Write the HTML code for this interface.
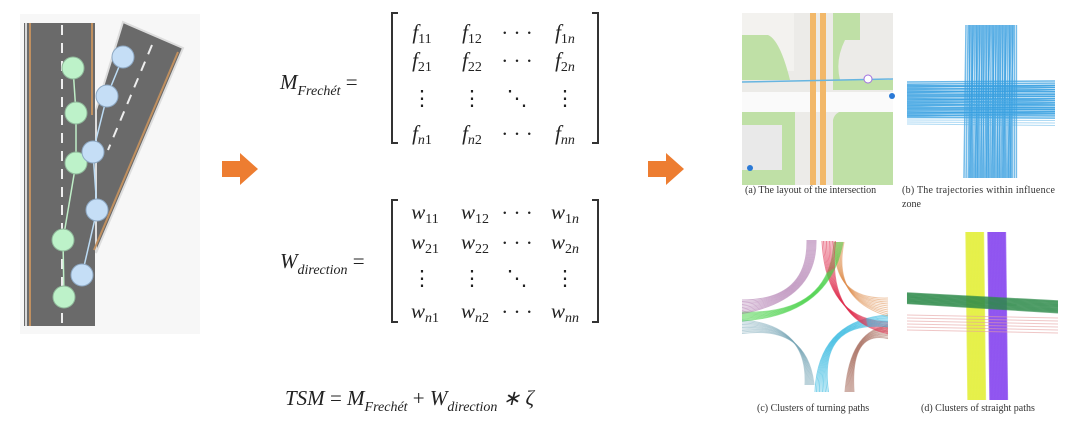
<!DOCTYPE html>
<html><head><meta charset="utf-8"><style>
body{margin:0;width:1080px;height:430px;background:#fff;overflow:hidden;position:relative;font-family:"Liberation Serif",serif}
svg{position:absolute;left:0;top:0}
.m{font-family:"Liberation Serif",serif;font-style:italic;font-size:21px;fill:#222}
.r{font-style:normal}
.s{font-size:14px}
.cap{font-family:"Liberation Serif",serif;font-size:10px;fill:#333}
</style></head><body>
<svg width="1080" height="430">
<g>
<rect x="20" y="14" width="180" height="320" fill="#f7f7f7"/>
<polygon points="123,22 183,48 96,253 96,110" fill="#6a6a6a" stroke="#ddd" stroke-width="2"/>
<rect x="24" y="23" width="71" height="303" fill="#6a6a6a"/>
<line x1="26" y1="23" x2="26" y2="326" stroke="#d8d8d8" stroke-width="2"/>
<line x1="30" y1="23" x2="30" y2="326" stroke="#c09060" stroke-width="2"/>
<line x1="92" y1="23" x2="92" y2="115" stroke="#c09060" stroke-width="2"/>
<line x1="62" y1="25" x2="62" y2="326" stroke="#eee" stroke-width="2" stroke-dasharray="10,8"/>
<line x1="178" y1="52" x2="94" y2="250" stroke="#c09060" stroke-width="2"/>
<line x1="152" y1="45" x2="108" y2="150" stroke="#eee" stroke-width="2" stroke-dasharray="10,8"/>
<g stroke="#bfeec7" stroke-width="1.5" fill="none">
<polyline points="64,297 63,240 76,163 76,113 73,68"/></g>
<g stroke="#bcdcf5" stroke-width="1.5" fill="none">
<polyline points="82,275 97,210 93,152 107,96 123,57"/></g>
<g fill="#bdf2c9" stroke="#8fb89a"><circle cx="73" cy="68" r="11"/><circle cx="76" cy="113" r="11"/><circle cx="76" cy="163" r="11"/><circle cx="63" cy="240" r="11"/><circle cx="64" cy="297" r="11"/></g>
<g fill="#c5def6" stroke="#8ea9c4"><circle cx="123" cy="57" r="11"/><circle cx="107" cy="96" r="11"/><circle cx="93" cy="152" r="11"/><circle cx="97" cy="210" r="11"/><circle cx="82" cy="275" r="11"/></g>
</g>
<polygon points="222,161 240,161 240,153 258,169 240,185 240,177 222,177" fill="#ed7d31"/>
<polygon points="648,161 666,161 666,153 684,169 666,185 666,177 648,177" fill="#ed7d31"/>

<g>
<text class="m" x="280" y="89">M<tspan class="s" dy="6">Frechét</tspan><tspan class="r" dy="-6"> =</tspan></text>
<path d="M398,13 H392 V143 H398 M592,13 H598 V143 H592" stroke="#333" stroke-width="2" fill="none"/>
<g class="m" text-anchor="middle">
<text x="422" y="39">f<tspan class="s r" dy="4">11</tspan></text><text x="472" y="39">f<tspan class="s r" dy="4">12</tspan></text><text x="517" y="40" class="r">· · ·</text><text x="565" y="39">f<tspan class="s r" dy="4">1</tspan><tspan class="s">n</tspan></text>
<text x="422" y="67">f<tspan class="s r" dy="4">21</tspan></text><text x="472" y="67">f<tspan class="s r" dy="4">22</tspan></text><text x="517" y="68" class="r">· · ·</text><text x="565" y="67">f<tspan class="s r" dy="4">2</tspan><tspan class="s">n</tspan></text>
<text x="422" y="105" class="r">⋮</text><text x="472" y="105" class="r">⋮</text><text x="517" y="105" class="r">⋱</text><text x="565" y="105" class="r">⋮</text>
<text x="422" y="140">f<tspan class="s" dy="4">n</tspan><tspan class="s r">1</tspan></text><text x="472" y="140">f<tspan class="s" dy="4">n</tspan><tspan class="s r">2</tspan></text><text x="517" y="141" class="r">· · ·</text><text x="565" y="140">f<tspan class="s" dy="4">nn</tspan></text>
</g></g>

<g>
<text class="m" x="280" y="268">W<tspan class="s" dy="6">direction</tspan><tspan class="r" dy="-6"> =</tspan></text>
<path d="M398,200 H392 V322 H398 M592,200 H598 V322 H592" stroke="#333" stroke-width="2" fill="none"/>
<g class="m" text-anchor="middle">
<text x="425" y="219">w<tspan class="s r" dy="4">11</tspan></text><text x="475" y="219">w<tspan class="s r" dy="4">12</tspan></text><text x="517" y="220" class="r">· · ·</text><text x="565" y="219">w<tspan class="s r" dy="4">1</tspan><tspan class="s">n</tspan></text>
<text x="425" y="249">w<tspan class="s r" dy="4">21</tspan></text><text x="475" y="249">w<tspan class="s r" dy="4">22</tspan></text><text x="517" y="250" class="r">· · ·</text><text x="565" y="249">w<tspan class="s r" dy="4">2</tspan><tspan class="s">n</tspan></text>
<text x="422" y="285" class="r">⋮</text><text x="472" y="285" class="r">⋮</text><text x="517" y="285" class="r">⋱</text><text x="565" y="285" class="r">⋮</text>
<text x="425" y="318">w<tspan class="s" dy="4">n</tspan><tspan class="s r">1</tspan></text><text x="475" y="318">w<tspan class="s" dy="4">n</tspan><tspan class="s r">2</tspan></text><text x="517" y="319" class="r">· · ·</text><text x="565" y="318">w<tspan class="s" dy="4">nn</tspan></text>
</g></g>

<text class="m" x="285" y="405">TSM <tspan class="r">=</tspan> M<tspan class="s" dy="6">Frechét</tspan><tspan class="r" dy="-6"> + </tspan>W<tspan class="s" dy="6">direction</tspan><tspan dy="-6"> ∗ ζ</tspan></text>

<g>
<rect x="742" y="13" width="151" height="172" fill="#ecebe8"/>
<rect x="742" y="13" width="52" height="58" fill="#f3f2ef"/>
<path d="M742,35 H768 Q780,40 790,80 H742Z" fill="#bfe0a6"/>
<path d="M742,112 H795 V185 H742Z" fill="#bfe0a6"/>
<rect x="742" y="125" width="40" height="45" fill="#e9e9e9"/>
<path d="M833,13 H860 V40 H845 Q835,60 840,80 H893 V90 H833Z" fill="#bfe0a6"/>
<path d="M833,120 Q835,110 850,110 H893 V185 H833Z" fill="#bfe0a6"/>
<rect x="742" y="92" width="151" height="20" fill="#fafafa"/>
<rect x="810" y="13" width="6" height="172" fill="#f2b869"/>
<rect x="820" y="13" width="6" height="172" fill="#f2b869"/>
<line x1="742" y1="82" x2="893" y2="79" stroke="#67b5e0" stroke-width="1.5"/>
<circle cx="868" cy="79" r="4" fill="#fff" stroke="#a070e0"/>
<circle cx="892" cy="96" r="3" fill="#2a79d6"/><circle cx="750" cy="168" r="3" fill="#2a79d6"/>
</g>
<g id="pb"></g>
<g id="pc"></g>
<g id="pd"></g>
<text class="cap" x="745" y="193">(a) The layout of the intersection</text>
<text class="cap" x="902" y="193" textLength="153">(b) The trajectories within influence</text>
<text class="cap" x="902" y="207">zone</text>
<text class="cap" x="757" y="411">(c) Clusters of turning paths</text>
<text class="cap" x="921" y="411">(d) Clusters of straight paths</text>
</svg>
<script>
const NS='http://www.w3.org/2000/svg';
function ln(g,x1,y1,x2,y2,c,o,w){const l=document.createElementNS(NS,'line');l.setAttribute('x1',x1);l.setAttribute('y1',y1);l.setAttribute('x2',x2);l.setAttribute('y2',y2);l.setAttribute('stroke',c);l.setAttribute('stroke-opacity',o);l.setAttribute('stroke-width',w||1);


g.appendChild(l);}
function pth(g,d,c,o){const p=document.createElementNS(NS,'path');p.setAttribute('d',d);p.setAttribute('stroke',c);p.setAttribute('stroke-opacity',o);p.setAttribute('fill','none');


g.appendChild(p);}
const pb=document.getElementById('pb');
for(let i=0;i<45;i++){const x=966+i*1.1;ln(pb,x+(i%3),25,x+(i%5-2),178,'#3aa0e0',0.7,1.5);}
for(let i=0;i<32;i++){const y=82+i*1.1;ln(pb,907,y+(i%3),1055,y+(i%4-1),'#3aa0e0',0.75,1.5);}
for(let i=0;i<12;i++){ln(pb,907,102+i*2,1055,98+i*2.5,'#5ab4ea',0.5,1);}
const pc=document.getElementById('pc');
for(let i=0;i<10;i++){pth(pc,`M${807+i},240 Q${808+i},300 742,${300+i*1.5}`,'#a060a0',0.5);
pth(pc,`M${835+i},242 Q${832},300 888,${298+i*2}`,'#e09050',0.5);
pth(pc,`M${822+i*1.5},241 Q${826},320 888,${322+i*1.3}`,'#e03050',0.6);
pth(pc,`M${815+i*1.5},392 Q${818},320 888,${315+i*1.3}`,'#30b8e0',0.6);
pth(pc,`M742,${320+i*1.5} Q${808},325 ${805+i},385`,'#7aa8b8',0.5);
pth(pc,`M${845+i},392 Q${850},330 888,${326+i*1.4}`,'#a06050',0.5);
pth(pc,`M742,${312+i} Q${830},315 ${834+i},242`,'#40d040',0.5);}
const pd=document.getElementById('pd');
for(let i=0;i<30;i++){ln(pd,966+i*0.6,232,968+i*0.6,400,'#e4f040',0.7,1.5);ln(pd,988+i*0.6,232,990+i*0.6,400,'#8a4cf0',0.7,1.5);}
for(let i=0;i<14;i++){ln(pd,907,293+i*0.8,1058,301+i*0.9,'#2e8a4a',0.7,1.5);}
for(let i=0;i<6;i++){ln(pd,907,315+i*3,1058,318+i*3,'#e4a0a0',0.6,1);}
</script>
</body></html>
